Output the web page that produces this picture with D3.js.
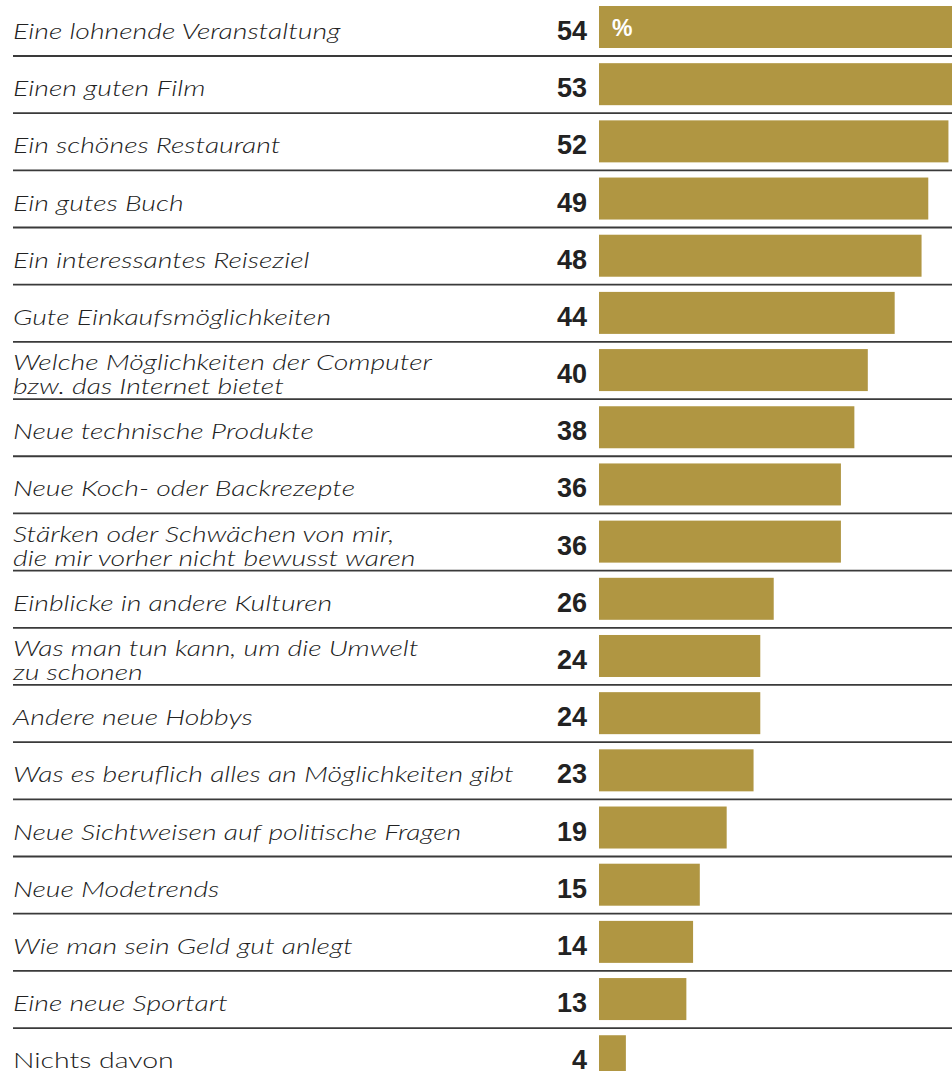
<!DOCTYPE html>
<html>
<head>
<meta charset="utf-8">
<script src="https://cdn.jsdelivr.net/npm/d3@7"></script>
<style>
  html, body { margin: 0; padding: 0; background: #ffffff; }
  svg { display: block; }
</style>
</head>
<body>
<div id="chart"></div>
<script>
// Survey answers: each label may span two lines ("\n")
const categories = [
  "Eine lohnende Veranstaltung",
  "Einen guten Film",
  "Ein schönes Restaurant",
  "Ein gutes Buch",
  "Ein interessantes Reiseziel",
  "Gute Einkaufsmöglichkeiten",
  "Welche Möglichkeiten der Computer\nbzw. das Internet bietet",
  "Neue technische Produkte",
  "Neue Koch- oder Backrezepte",
  "Stärken oder Schwächen von mir,\ndie mir vorher nicht bewusst waren",
  "Einblicke in andere Kulturen",
  "Was man tun kann, um die Umwelt\nzu schonen",
  "Andere neue Hobbys",
  "Was es beruflich alles an Möglichkeiten gibt",
  "Neue Sichtweisen auf politische Fragen",
  "Neue Modetrends",
  "Wie man sein Geld gut anlegt",
  "Eine neue Sportart",
  "Nichts davon"
];
const values = [54, 53, 52, 49, 48, 44, 40, 38, 36, 36, 26, 24, 24, 23, 19, 15, 14, 13, 4];
const unitLabel = "%";

const W = 952, H = 1071;
const barColor = "#b09642";
const lineColor = "#3a3a3a";
const textColor = "#222222";

const svg = d3.select("#chart").append("svg")
  .attr("width", W).attr("height", H);

// Row bands: each row owns a band, separators sit between bands
const y = d3.scaleBand()
  .domain(d3.range(categories.length))
  .range([-1.2, -1.2 + 57.18 * categories.length])
  .paddingInner(0).paddingOuter(0);

const x = d3.scaleLinear().domain([0, 54]).range([599, 599 + 54 * 6.72]);

const barH = 42;
const barOff = 7.2;
const mid = i => y(i) + barOff + barH / 2;

// separators
svg.append("g").selectAll("line")
  .data(d3.range(categories.length - 1))
  .join("line")
  .attr("x1", 13).attr("x2", W)
  .attr("y1", i => y(i) + y.bandwidth())
  .attr("y2", i => y(i) + y.bandwidth())
  .attr("stroke", lineColor)
  .attr("stroke-width", 1.8);

// bars
svg.append("g").selectAll("rect")
  .data(values)
  .join("rect")
  .attr("x", x(0))
  .attr("y", (d, i) => y(i) + barOff)
  .attr("width", d => x(d) - x(0))
  .attr("height", barH)
  .attr("fill", barColor);

// unit marker inside the first bar
svg.append("text")
  .attr("x", x(0) + 13)
  .attr("y", mid(0) + 9)
  .attr("fill", "#ffffff")
  .attr("font-family", "Liberation Sans, Arial, sans-serif")
  .attr("font-weight", "bold")
  .attr("font-size", 23)
  .text(unitLabel);

// value labels
svg.append("g").selectAll("text")
  .data(values)
  .join("text")
  .attr("x", 587)
  .attr("y", (d, i) => mid(i) + 13)
  .attr("text-anchor", "end")
  .attr("fill", textColor)
  .attr("font-family", "Liberation Sans, Arial, sans-serif")
  .attr("font-weight", "bold")
  .attr("font-size", 27)
  .text(d => d);

// category labels
const labelSize = 22;
const lab = svg.append("g").selectAll("text")
  .data(categories)
  .join("text")
  .attr("fill", textColor)
  .attr("font-family", "Lato, 'Open Sans', sans-serif")
  .attr("font-weight", 300)
  .attr("font-style", (d, i) => i === categories.length - 1 ? "normal" : "italic")
  .attr("font-size", labelSize);

lab.each(function (d) {
  const lines = d.split("\n");
  const t = d3.select(this);
  lines.forEach((ln, k) => {
    t.append("tspan")
      .attr("x", 0)
      .attr("y", lines.length === 1 ? 0 : (k === 0 ? -12 : 12))
      .text(ln);
  });
});

// stretch label text horizontally to the wide geometric look of the design
const ref = lab.filter((d, i) => i === 13).node();
const sx = 501 / ref.getComputedTextLength();
lab.attr("transform", (d, i) => `translate(13, ${mid(i) + 12}) scale(${sx}, 1)`);
</script>
</body>
</html>
